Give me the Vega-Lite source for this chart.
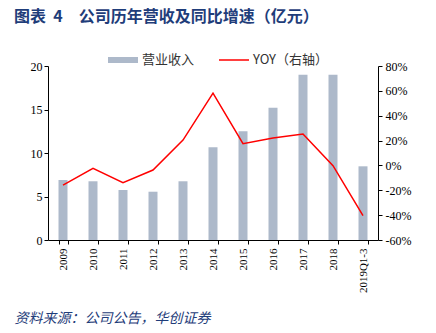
{
  "$schema": "https://vega.github.io/schema/vega-lite/v6.json",
  "width": 330,
  "height": 174,
  "padding": {"left": 14, "top": 9, "right": 5, "bottom": 5},
  "background": "white",
  "title": {
    "text": "图表\u00a0\u00a04\u3000公司历年营收及同比增速（亿元）",
    "anchor": "start",
    "frame": "bounds",
    "offset": 20,
    "font": "Noto Sans CJK SC",
    "fontSize": 16,
    "fontWeight": "bold",
    "color": "#1f3d7a"
  },
  "config": {
    "view": {"stroke": null},
    "axis": {
      "labelFont": "Liberation Serif",
      "labelFontSize": 11,
      "labelColor": "#000000",
      "domainColor": "#000000",
      "tickColor": "#000000",
      "grid": false,
      "tickSize": 4
    }
  },
  "data": {
    "values": [
      {"year": "2009", "revenue": 6.9, "yoy": -15.8},
      {"year": "2010", "revenue": 6.75, "yoy": -2.4},
      {"year": "2011", "revenue": 5.75, "yoy": -13.9},
      {"year": "2012", "revenue": 5.55, "yoy": -3.7},
      {"year": "2013", "revenue": 6.75, "yoy": 20.4},
      {"year": "2014", "revenue": 10.65, "yoy": 58.2},
      {"year": "2015", "revenue": 12.5, "yoy": 17.5},
      {"year": "2016", "revenue": 15.2, "yoy": 22},
      {"year": "2017", "revenue": 19.0, "yoy": 25.3},
      {"year": "2018", "revenue": 19.0, "yoy": -0.2},
      {"year": "2019Q1-3", "revenue": 8.47, "yoy": -40.4}
    ]
  },
  "encoding": {
    "x": {
      "field": "year",
      "type": "nominal",
      "sort": null,
      "scale": {"paddingInner": 0.7, "paddingOuter": 0.35},
      "axis": {
        "labelAngle": -90,
        "tickBand": "extent",
        "labelPadding": 4,
        "title": "资料来源：公司公告，华创证券",
        "titleFont": "Noto Sans CJK SC",
        "titleFontSize": 14,
        "titleFontWeight": "normal",
        "titleFontStyle": "italic",
        "titleColor": "#1f3d7a",
        "titleAlign": "left",
        "titleBaseline": "top",
        "titleAngle": 0,
        "titleX": -34,
        "titleY": 71
      }
    }
  },
  "layer": [
    {
      "mark": {"type": "bar", "color": "#adb9ca"},
      "encoding": {
        "y": {
          "field": "revenue",
          "type": "quantitative",
          "scale": {"domain": [0, 20], "nice": false},
          "axis": {"orient": "left", "values": [0, 5, 10, 15, 20], "title": null, "labelFontSize": 12}
        },
        "color": {
          "datum": "营业收入",
          "type": "nominal",
          "scale": {"domain": ["营业收入", "YOY（右轴）"], "range": ["#adb9ca", "#ff0000"]},
          "legend": {
            "orient": "none",
            "legendX": 60,
            "legendY": -21,
            "direction": "horizontal",
            "columns": 2,
            "title": null,
            "symbolSize": 900,
            "symbolStrokeWidth": 0,
            "labelFont": "Noto Sans CJK SC",
            "labelFontSize": 13,
            "labelColor": "#333333",
            "labelOffset": 4,
            "columnPadding": 24,
            "encode": {
              "symbols": {
                "update": {
                  "shape": {"signal": "datum.index === 0 ? 'M-1,-0.2H1V0.2H-1Z' : 'M-1,-0.05H1V0.05H-1Z'"},
                  "strokeWidth": {"value": 0}
                }
              }
            }
          }
        }
      }
    },
    {
      "mark": {"type": "line", "strokeWidth": 1.5},
      "encoding": {
        "y": {
          "field": "yoy",
          "type": "quantitative",
          "scale": {"domain": [-60, 80], "nice": false},
          "axis": {
            "orient": "right",
            "values": [-60, -40, -20, 0, 20, 40, 60, 80],
            "labelExpr": "datum.value + '%'",
            "title": null,
            "labelFontSize": 12,
            "labelPadding": 3
          }
        },
        "color": {"datum": "YOY（右轴）", "type": "nominal"}
      }
    }
  ],
  "resolve": {"scale": {"y": "independent"}}
}
